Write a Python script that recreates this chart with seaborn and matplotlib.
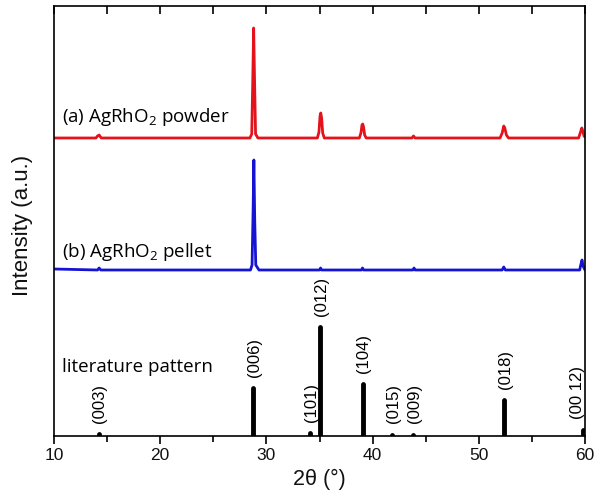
import matplotlib
matplotlib.use("Agg")
import matplotlib.pyplot as plt
import seaborn as sns
import pandas as pd

# ---------------- data ----------------
# (a) AgRhO2 powder: 2theta and intensity above its baseline
powder_x = [10.0, 13.95, 14.1, 14.25, 14.45, 28.45, 28.62, 28.72, 28.8, 28.88, 28.98, 29.2,
            34.8, 34.95, 35.05, 35.12, 35.2, 35.3, 35.45,
            38.75, 38.9, 39.0, 39.07, 39.15, 39.25, 39.4,
            43.7, 43.85, 44.0,
            52.0, 52.2, 52.35, 52.45, 52.6, 52.8,
            59.4, 59.58, 59.7, 59.8, 59.9, 60.0]
powder_y = [0, 0, 2, 3, 0, 0, 4, 60, 110, 60, 4, 0,
            0, 6, 22, 25, 20, 5, 0,
            0, 5, 13, 14, 11, 3, 0,
            0, 2, 0,
            0, 5, 12, 10, 3, 0,
            0, 6, 10, 7, 2, 1]

# (b) AgRhO2 pellet
pellet_x = [10.0, 14.1, 14.25, 14.4, 28.5, 28.65, 28.75, 28.82, 28.9, 29.0, 29.3,
            35.0, 35.1, 35.2, 38.95, 39.05, 39.15, 43.8, 43.9, 44.0,
            52.2, 52.35, 52.5, 59.5, 59.6, 59.72, 59.82, 59.95, 60.0]
pellet_y = [1, 0, 2, 0, 0, 5, 60, 110, 50, 5, 0,
            0, 2, 0, 0, 2, 0, 0, 2, 0,
            0, 3, 0, 0, 5, 10, 4, 1, 0]

# literature pattern
hkl_labels = ["(003)", "(006)", "(101)", "(012)", "(104)", "(015)", "(009)", "(018)", "(00 12)"]
hkl_pos = [14.2, 28.75, 34.1, 35.08, 39.05, 41.85, 43.85, 52.35, 59.8]
hkl_int = [2, 48, 3, 109, 52, 1.5, 1.5, 36, 6]

# vertical offsets of the stacked traces (display units)
off_powder = 298
off_pellet = 166

red = "#e3121b"
blue = "#1414d2"

# ---------------- figure ----------------
sns.set_theme(style="ticks")
plt.rcParams["font.family"] = ["Liberation Sans", "DejaVu Sans"]
plt.rcParams["mathtext.fontset"] = "custom"
plt.rcParams["mathtext.default"] = "regular"

fig = plt.figure(figsize=(5.97, 4.99), dpi=100)
ax = fig.add_axes([54 / 597, 1 - 436 / 499, (585 - 54) / 597, (436 - 6) / 499])

df_p = pd.DataFrame({"x": powder_x, "y": [v + off_powder for v in powder_y]})
df_b = pd.DataFrame({"x": pellet_x, "y": [v + off_pellet for v in pellet_y]})
sns.lineplot(data=df_p, x="x", y="y", ax=ax, color=red, lw=2.0, sort=False, estimator=None)
sns.lineplot(data=df_b, x="x", y="y", ax=ax, color=blue, lw=2.0, sort=False, estimator=None)

ax.vlines(hkl_pos, 0, hkl_int, colors="black", lw=3.5, capstyle="round")
for lab, x, h in zip(hkl_labels, hkl_pos, hkl_int):
    dx = -4 if lab == "(00 12)" else 1
    ax.annotate(lab, xy=(x, h), xytext=(dx, 8), textcoords="offset points",
                rotation=90, ha="center", va="bottom", fontsize=12, color="black")

ann_font = ["Open Sans", "DejaVu Sans"]
ax.text(10.8, 319, "(a) AgRhO$_2$ powder", fontsize=13.5, family=ann_font, va="center", ha="left", color="black")
ax.text(10.8, 184, "(b) AgRhO$_2$ pellet", fontsize=13.5, family=ann_font, va="center", ha="left", color="black")
ax.text(10.8, 69, "literature pattern", fontsize=13.5, family=ann_font, va="center", ha="left", color="black")

ax.set_xlim(10, 60)
ax.set_ylim(0, 430)
ax.set_xticks([10, 20, 30, 40, 50, 60])
ax.set_xticks([15, 25, 35, 45, 55], minor=True)
ax.set_yticks([])
ax.tick_params(axis="x", which="major", direction="out", length=6, width=1.2,
               labelsize=12.5, pad=3, color="black", labelcolor="#111111")
ax.tick_params(axis="x", which="minor", direction="out", length=4.5, width=1.2, color="black")

# inward ticks along the top
ax2 = ax.secondary_xaxis("top")
ax2.set_xticks([10, 20, 30, 40, 50, 60])
ax2.set_xticks([15, 25, 35, 45, 55], minor=True)
ax2.tick_params(axis="x", which="both", direction="in", length=6, width=1.2, labeltop=False, color="black")
ax2.spines["top"].set_visible(False)

for s in ax.spines.values():
    s.set_visible(True)
    s.set_color("black")
    s.set_linewidth(1.2)

ax.set_xlabel("2θ (°)", fontsize=15.5, labelpad=4, color="#111111")
ax.set_ylabel("Intensity (a.u.)", fontsize=16, color="#111111")
ax.yaxis.set_label_coords(-0.04, 0.49)

fig.savefig("out.png", dpi=100)
